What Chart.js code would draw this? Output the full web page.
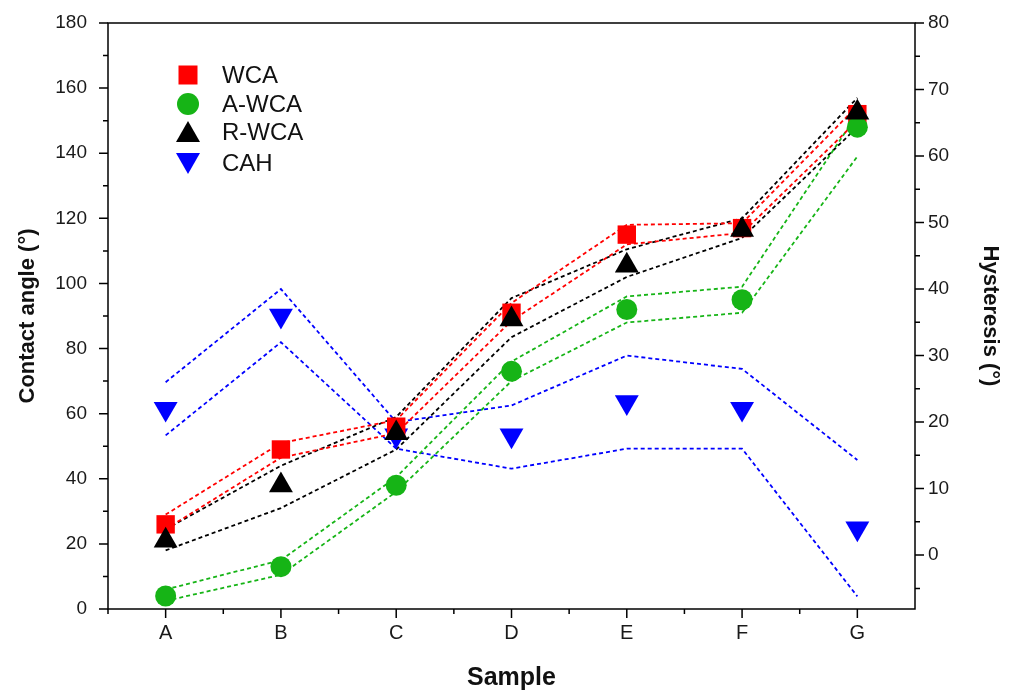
<!DOCTYPE html>
<html>
<head>
<meta charset="utf-8">
<script src="https://cdn.jsdelivr.net/npm/chart.js@4.4.0/dist/chart.umd.min.js"></script>
<style>
html, body { margin: 0; padding: 0; background: #fff; }
canvas { display: block; }
</style>
</head>
<body>
<canvas id="chart" width="1016" height="690"></canvas>
<script>
const samples = ['A', 'B', 'C', 'D', 'E', 'F', 'G'];

// contact angles (left axis)
const wca     = [26, 49, 56, 91, 115, 117, 152];
const wcaUp   = [29, 51, 58, 94, 118, 118.5, 154.5];
const wcaLow  = [24.5, 46.5, 54, 88.5, 112, 115.5, 150];
const awca    = [4, 13, 38, 73, 92, 95, 148];
const awcaUp  = [6, 15, 40.5, 76, 96, 99, 152];
const awcaLow = [2.5, 10.5, 36, 70, 88, 91, 139];
const rwca    = [21, 38, 54, 89, 105.5, 116.5, 152.5];
const rwcaUp  = [24.5, 44, 59, 95.5, 110.5, 120, 157];
const rwcaLow = [18, 31, 49, 83.5, 102, 114, 148];

// hysteresis (right axis)
const cah    = [22, 36, 18, 18, 23, 22, 4];
const cahUp  = [26, 40, 20, 22.5, 30, 28, 14.3];
const cahLow = [18, 32, 16, 13, 16, 16, -6.2];

const leftTicks = [0, 20, 40, 60, 80, 100, 120, 140, 160, 180];
const rightTicks = [0, 10, 20, 30, 40, 50, 60, 70, 80];

const RED = '#ff0000', GREEN = '#16b416', BLACK = '#000000', BLUE = '#0000ff';
const FONT = 'Liberation Sans, Arial, sans-serif';

function band(data, color, axis) {
    return {
        data: data, yAxisID: axis || 'y', borderColor: color, borderWidth: 1.8,
        borderDash: [4, 3], pointRadius: 0, fill: false, tension: 0, order: 10
    };
}

function marks(label, data, color, style, radius, order, axis, rot) {
    return {
        label: label, data: data, yAxisID: axis || 'y', showLine: false,
        pointStyle: style, pointRadius: radius, pointRotation: rot || 0,
        backgroundColor: color, borderColor: color, borderWidth: 0, order: order
    };
}

// keep the plot box fixed: no extra room for the tick labels
function fixWidth(w) {
    return function(s) { s.width = w; s.paddingTop = 0; s.paddingBottom = 0; };
}

// ticks, frame and legend drawn on top of the chart
const frame = {
    id: 'frame',
    afterDraw(chart) {
        const { ctx, chartArea: a, scales } = chart;
        const x = scales.x, y = scales.y, y1 = scales.y1;
        ctx.save();
        ctx.strokeStyle = '#000';
        ctx.lineWidth = 1.5;
        ctx.strokeRect(a.left, a.top, a.right - a.left, a.bottom - a.top);
        ctx.beginPath();
        leftTicks.forEach(v => {
            let p = y.getPixelForValue(v);
            ctx.moveTo(a.left, p); ctx.lineTo(a.left - 9, p);
            if (v > 0) { p = y.getPixelForValue(v - 10); ctx.moveTo(a.left, p); ctx.lineTo(a.left - 5, p); }
        });
        rightTicks.forEach(v => {
            let p = y1.getPixelForValue(v);
            ctx.moveTo(a.right, p); ctx.lineTo(a.right + 9, p);
            p = y1.getPixelForValue(v - 5); ctx.moveTo(a.right, p); ctx.lineTo(a.right + 5, p);
        });
        samples.forEach((s, i) => {
            let p = x.getPixelForValue(i);
            ctx.moveTo(p, a.bottom); ctx.lineTo(p, a.bottom + 9);
            p = x.getPixelForValue(i - 0.5); ctx.moveTo(p, a.bottom); ctx.lineTo(p, a.bottom + 5);
        });
        ctx.stroke();

        // legend
        const lx = 188, rows = [75, 104, 132, 163];
        const names = ['WCA', 'A-WCA', 'R-WCA', 'CAH'];
        ctx.fillStyle = RED; ctx.fillRect(lx - 9.5, rows[0] - 9.5, 19, 19);
        ctx.fillStyle = GREEN; ctx.beginPath(); ctx.arc(lx, rows[1], 11, 0, Math.PI * 2); ctx.fill();
        ctx.fillStyle = BLACK; ctx.beginPath();
        ctx.moveTo(lx, rows[2] - 11);
        ctx.lineTo(lx + 12, rows[2] + 10);
        ctx.lineTo(lx - 12, rows[2] + 10);
        ctx.closePath(); ctx.fill();
        ctx.fillStyle = BLUE; ctx.beginPath();
        ctx.moveTo(lx, rows[3] + 11);
        ctx.lineTo(lx + 12, rows[3] - 10);
        ctx.lineTo(lx - 12, rows[3] - 10);
        ctx.closePath(); ctx.fill();
        ctx.fillStyle = '#111';
        ctx.font = '24px ' + FONT;
        ctx.textBaseline = 'middle';
        names.forEach((n, i) => ctx.fillText(n, 222, rows[i] + 1));
        ctx.restore();
    }
};

new Chart(document.getElementById('chart'), {
    type: 'line',
    data: {
        labels: samples,
        datasets: [
            band(wcaUp, RED), band(wcaLow, RED),
            band(awcaUp, GREEN), band(awcaLow, GREEN),
            band(rwcaUp, BLACK), band(rwcaLow, BLACK),
            band(cahUp, BLUE, 'y1'), band(cahLow, BLUE, 'y1'),
            marks('CAH', cah, BLUE, 'triangle', 13.8, 4, 'y1', 180),
            marks('WCA', wca, RED, 'rect', 13, 3),
            marks('A-WCA', awca, GREEN, 'circle', 10.5, 2),
            marks('R-WCA', rwca, BLACK, 'triangle', 13.8, 1)
        ]
    },
    options: {
        responsive: false,
        animation: false,
        devicePixelRatio: 1,
        events: [],
        layout: { padding: { top: 23, left: 0, right: 0, bottom: 0 } },
        plugins: { legend: { display: false }, tooltip: { enabled: false } },
        scales: {
            x: {
                type: 'category', offset: true,
                grid: { display: false, drawTicks: false },
                border: { display: false },
                ticks: { color: '#1a1a1a', padding: 12, font: { family: FONT, size: 20 } },
                title: { display: true, text: 'Sample', color: '#111', padding: { top: 0, bottom: -3 },
                         font: { family: FONT, size: 25, weight: 'bold' } },
                afterFit(s) { s.height = 81; }
            },
            y: {
                position: 'left', min: 0, max: 180,
                afterBuildTicks(s) { s.ticks = leftTicks.map(v => ({ value: v })); },
                grid: { display: false, drawTicks: false },
                border: { display: false },
                ticks: { color: '#1a1a1a', padding: 21, font: { family: FONT, size: 19 } },
                title: { display: true, text: 'Contact angle (°)', color: '#111', padding: { top: 15, bottom: 0 },
                         font: { family: FONT, size: 22, weight: 'bold' } },
                afterFit: fixWidth(108)
            },
            y1: {
                position: 'right', min: -8.1, max: 80,
                afterBuildTicks(s) { s.ticks = rightTicks.map(v => ({ value: v })); },
                grid: { display: false, drawTicks: false },
                border: { display: false },
                ticks: { color: '#1a1a1a', padding: 13, font: { family: FONT, size: 19 } },
                title: { display: true, text: 'Hysteresis (°)', color: '#111', padding: { top: 13, bottom: 0 },
                         font: { family: FONT, size: 22, weight: 'bold' } },
                afterFit: fixWidth(101)
            }
        }
    },
    plugins: [frame]
});
</script>
</body>
</html>
